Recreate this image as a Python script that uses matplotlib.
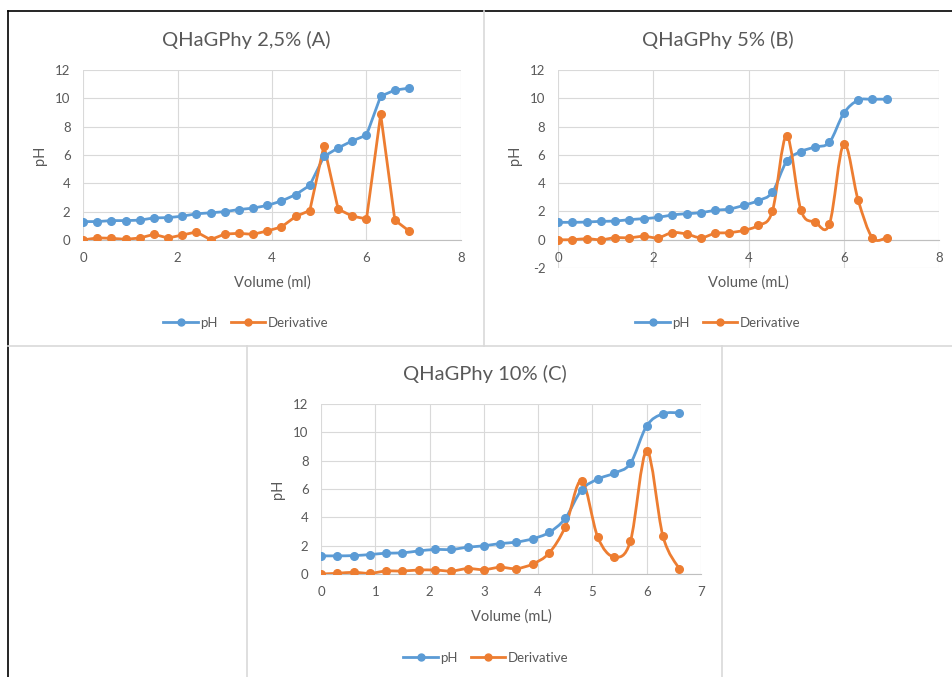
import numpy as np
import matplotlib
matplotlib.use('Agg')
import matplotlib.pyplot as plt
from matplotlib.path import Path
from matplotlib.patches import PathPatch
from matplotlib.lines import Line2D

plt.rcParams['font.family'] = ['Lato', 'DejaVu Sans']
plt.rcParams['axes.unicode_minus'] = False

# ---------------- data ----------------
vol_a = [0.0, 0.3, 0.6, 0.9, 1.2, 1.5, 1.8, 2.1, 2.4, 2.7, 3.0, 3.3, 3.6, 3.9,
         4.2, 4.5, 4.8, 5.1, 5.4, 5.7, 6.0, 6.3, 6.6, 6.9]
ph_a = [1.30, 1.30, 1.37, 1.37, 1.40, 1.56, 1.58, 1.68, 1.85, 1.92, 2.00, 2.15,
        2.25, 2.44, 2.75, 3.20, 3.86, 5.90, 6.50, 7.00, 7.40, 10.15, 10.58, 10.72]
der_a = [0.00, 0.15, 0.12, 0.05, 0.14, 0.40, 0.14, 0.35, 0.57, 0.02, 0.42, 0.47,
         0.40, 0.64, 0.92, 1.66, 2.08, 6.67, 2.18, 1.68, 1.49, 8.87, 1.40, 0.64]

vol_b = [0.0, 0.3, 0.6, 0.9, 1.2, 1.5, 1.8, 2.1, 2.4, 2.7, 3.0, 3.3, 3.6, 3.9,
         4.2, 4.5, 4.8, 5.1, 5.4, 5.7, 6.0, 6.3, 6.6, 6.9]
ph_b = [1.23, 1.23, 1.25, 1.30, 1.32, 1.42, 1.49, 1.58, 1.75, 1.84, 1.91, 2.08,
        2.17, 2.43, 2.76, 3.35, 5.54, 6.23, 6.56, 6.89, 8.94, 9.86, 9.93, 9.93]
der_b = [0.00, 0.00, 0.07, 0.00, 0.14, 0.14, 0.24, 0.14, 0.50, 0.40, 0.14, 0.45,
         0.50, 0.66, 1.01, 2.00, 7.36, 2.10, 1.25, 1.11, 6.77, 2.83, 0.14, 0.14]

vol_c = [0.0, 0.3, 0.6, 0.9, 1.2, 1.5, 1.8, 2.1, 2.4, 2.7, 3.0, 3.3, 3.6, 3.9,
         4.2, 4.5, 4.8, 5.1, 5.4, 5.7, 6.0, 6.3, 6.6]
ph_c = [1.28, 1.28, 1.30, 1.37, 1.47, 1.49, 1.63, 1.73, 1.73, 1.89, 1.99, 2.15,
        2.25, 2.49, 2.93, 3.93, 5.94, 6.70, 7.12, 7.81, 10.46, 11.31, 11.38]
der_c = [0.00, 0.05, 0.12, 0.05, 0.21, 0.21, 0.28, 0.28, 0.21, 0.38, 0.31, 0.47,
         0.38, 0.71, 1.47, 3.34, 6.60, 2.58, 1.21, 2.32, 8.69, 2.65, 0.36]

titles = ["QHaGPhy 2,5% (A)", "QHaGPhy 5% (B)", "QHaGPhy 10% (C)"]
xlabels = ["Volume (ml)", "Volume (mL)", "Volume (mL)"]
ylabel = "pH"
series_names = ["pH", "Derivative"]

BLUE = '#5B9BD5'
ORANGE = '#ED7D31'
GRID = '#D9D9D9'
TXT = '#595959'

W, H = 952, 677
fig = plt.figure(figsize=(W / 100, H / 100), dpi=100)


def fx(px):
    return px / W


def fy(py):
    return 1 - py / H


def smooth_path(x, y):
    x = np.asarray(x, float)
    y = np.asarray(y, float)
    n = len(x)
    verts = [(x[0], y[0])]
    codes = [Path.MOVETO]
    for i in range(n - 1):
        p0 = i - 1 if i > 0 else i
        p3 = i + 2 if i + 2 < n else i + 1
        c1 = (x[i] + (x[i + 1] - x[p0]) / 6, y[i] + (y[i + 1] - y[p0]) / 6)
        c2 = (x[i + 1] - (x[p3] - x[i]) / 6, y[i + 1] - (y[p3] - y[i]) / 6)
        verts += [c1, c2, (x[i + 1], y[i + 1])]
        codes += [Path.CURVE4] * 3
    return Path(verts, codes)


def panel(rect_px, x, ph, der, xmax, ymin, smooth, title, xlabel, chart_px):
    l, t, r, b = rect_px
    ax = fig.add_axes([fx(l), fy(b), fx(r - l), (b - t) / H])
    for s in ['top', 'right', 'left']:
        ax.spines[s].set_visible(False)
    ax.spines['bottom'].set_position(('data', 0))
    ax.spines['bottom'].set_color('#BFBFBF')
    ax.spines['bottom'].set_linewidth(0.8)
    ax.set_xlim(0, xmax)
    ax.set_ylim(ymin, 12)
    ax.set_xticks(np.arange(0, xmax + 0.5, 2 if xmax == 8 else 1))
    ax.set_yticks(np.arange(ymin, 12.5, 2))
    ax.grid(True, color=GRID, lw=0.8)
    ax.set_axisbelow(True)
    ax.tick_params(length=0, labelsize=9.5, labelcolor=TXT)
    ax.tick_params(axis='y', pad=9)
    ax.tick_params(axis='x', pad=9)
    for yv, col in ((ph, BLUE), (der, ORANGE)):
        if smooth:
            ax.add_patch(PathPatch(smooth_path(x, yv), facecolor='none', edgecolor=col,
                                   lw=2.0, joinstyle='round', capstyle='round', zorder=3))
        else:
            ax.plot(x, yv, '-', color=col, lw=2.0, solid_joinstyle='round', zorder=3)
        ax.plot(x, yv, 'o', color=col, ms=5.5, mec=col, zorder=4)
    cl, cr = chart_px
    fig.text(fx((cl + cr) / 2), fy(t - 30), title, ha='center', va='center',
             fontsize=14.5, color=TXT)
    fig.text(fx((l + r) / 2), fy(t + 213), xlabel, ha='center', va='center',
             fontsize=10.5, color=TXT)
    fig.text(fx(l - 43), fy(t + 85), ylabel, rotation=90, ha='center', va='center',
             fontsize=10.5, color=TXT)
    return ax


axA = panel((83, 70, 461, 240), vol_a, ph_a, der_a, 8, 0, False, titles[0], xlabels[0], (8, 484))
axB = panel((558, 70, 939, 268), vol_b, ph_b, der_b, 8, -2, True, titles[1], xlabels[1], (484, 952))
axC = panel((321, 404, 701, 574), vol_c, ph_c, der_c, 7, 0, True, titles[2], xlabels[2], (247, 722))

# legends
handles = [Line2D([], [], color=BLUE, lw=2, marker='o', ms=5),
           Line2D([], [], color=ORANGE, lw=2, marker='o', ms=5)]
for cx, cy in ((246, 323), (718, 323), (486, 658)):
    fig.legend(handles, series_names, loc='center', bbox_to_anchor=(fx(cx), fy(cy)),
               ncol=2, frameon=False, fontsize=9.5, labelcolor=TXT,
               handlelength=2.6, handletextpad=0.2, columnspacing=1.0,
               borderaxespad=0, borderpad=0)

# frame / divider lines
K = '#000000'
G = '#D9D9D9'
fig.add_artist(Line2D([fx(8), fx(952)], [fy(11), fy(11)], color=K, lw=1.2))
fig.add_artist(Line2D([fx(8), fx(8)], [fy(11), fy(677)], color=K, lw=1.2))
fig.add_artist(Line2D([fx(484), fx(484)], [fy(11), fy(346)], color=G, lw=1.2))
fig.add_artist(Line2D([fx(8), fx(952)], [fy(346), fy(346)], color=G, lw=1.2))
fig.add_artist(Line2D([fx(247), fx(247)], [fy(346), fy(677)], color=G, lw=1.2))
fig.add_artist(Line2D([fx(722), fx(722)], [fy(346), fy(677)], color=G, lw=1.2))

fig.savefig('out.png', dpi=100, facecolor='white')
